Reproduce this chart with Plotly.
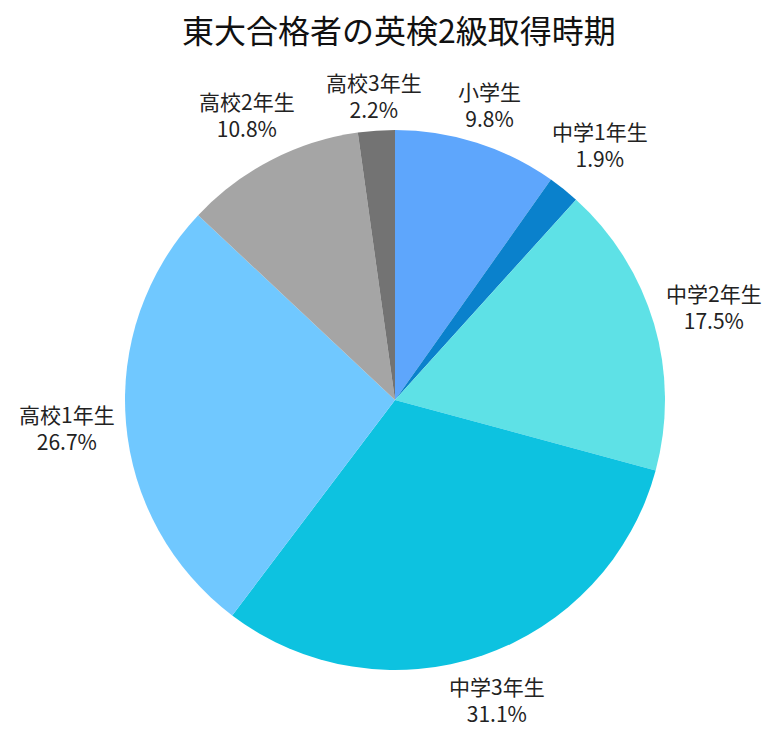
import math
import plotly.graph_objects as go

labels = ["小学生", "中学1年生", "中学2年生", "中学3年生", "高校1年生", "高校2年生", "高校3年生"]
values = [9.8, 1.9, 17.5, 31.1, 26.7, 10.8, 2.2]
colors = ["#5ea6fc", "#0a81cc", "#5ee1e6", "#0dc2e0", "#70c8ff", "#a5a5a5", "#737373"]

font = "Noto Sans CJK JP"
label_size = 21
radius = 270       # pie radius in px (plot area is 540x540)
label_gap = 10     # gap between pie edge and label block
half_h = 22        # vertical half extent of a 2-line label


def text_width(s):
    # rough width in px for Noto Sans CJK
    w = 0
    for ch in s:
        if ord(ch) > 0x2000:
            w += 1.0
        elif ch == "%":
            w += 0.85
        elif ch == ".":
            w += 0.28
        else:
            w += 0.56
    return w * label_size


fig = go.Figure(go.Pie(
    labels=labels,
    values=values,
    sort=False,
    direction="clockwise",
    rotation=0,
    marker=dict(colors=colors),
    textinfo="none",
    showlegend=False,
    hoverinfo="label+percent",
))

# labels sit outside each slice, centred on the slice's mid-angle ray
total = sum(values)
cum = 0
for lab, v in zip(labels, values):
    pct = v / total * 100
    mid = (cum + v / 2) / total * 2 * math.pi
    cum += v
    s, c = math.sin(mid), math.cos(mid)
    pct_txt = f"{pct:.1f}%"
    half_w = max(text_width(lab), text_width(pct_txt)) / 2
    d = radius + label_gap + half_h * abs(c) + half_w * abs(s)
    fig.add_annotation(
        x=0.5 + d * s / (2 * radius),
        y=0.5 + d * c / (2 * radius),
        xref="paper", yref="paper",
        text=f"{lab}<br>{pct_txt}",
        showarrow=False,
        xanchor="center", yanchor="middle",
        font=dict(size=label_size, color="#222222", family=font),
    )

fig.update_layout(
    width=782,
    height=740,
    title=dict(text="東大合格者の英検2級取得時期", x=0.5, xanchor="center", y=0.968,
               yanchor="middle", font=dict(size=32, color="#111111", family=font)),
    font=dict(family=font),
    margin=dict(l=117, r=125, t=122, b=78),
    paper_bgcolor="white",
)

fig.write_html("out.html")
